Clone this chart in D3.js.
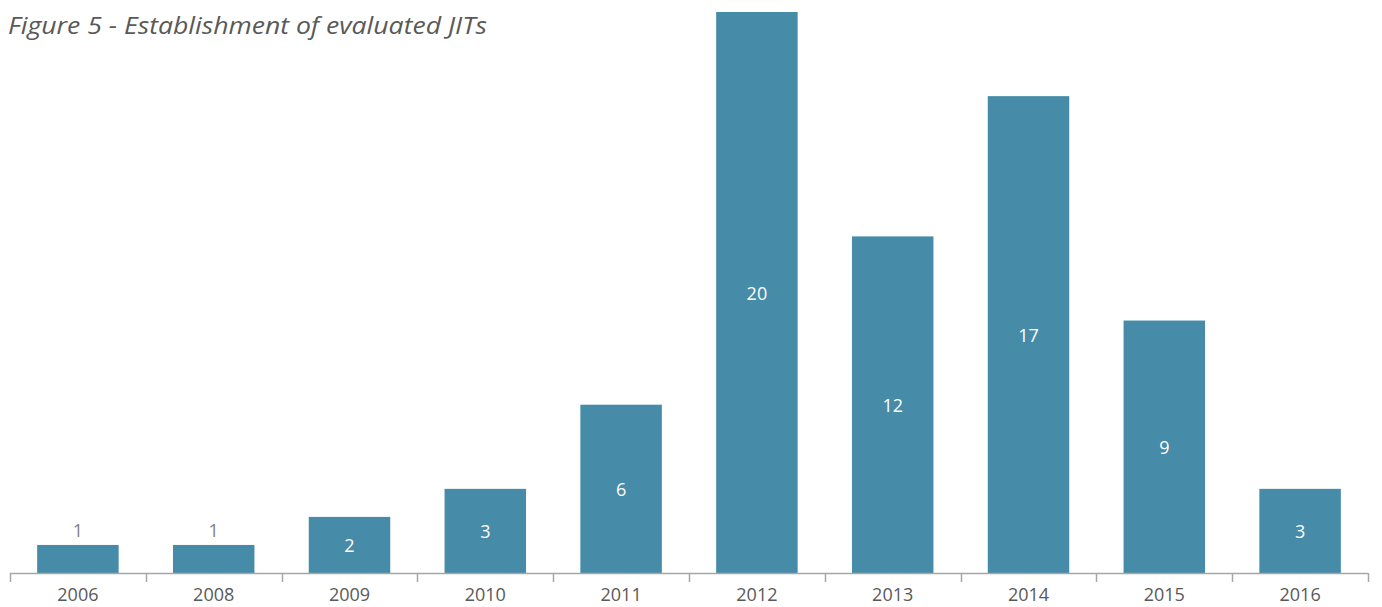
<!DOCTYPE html>
<html>
<head>
<meta charset="utf-8">
<script src="https://cdn.jsdelivr.net/npm/d3@7"></script>
<style>
  body { margin: 0; background: #fff; }
  svg text { font-family: "Open Sans", "Noto Sans", sans-serif; }
</style>
</head>
<body>
<div id="chart"></div>
<script>
var years = ["2006", "2008", "2009", "2010", "2011", "2012", "2013", "2014", "2015", "2016"];
var counts = [1, 1, 2, 3, 6, 20, 12, 17, 9, 3];
var title = "Figure 5 - Establishment of evaluated JITs";

function init() {
    var w = 1382, h = 607;
    var margin = { top: 12, right: 14, bottom: 34, left: 10 };

    var svg = d3.select("#chart")
        .append("svg")
        .attr("width", w)
        .attr("height", h);

    var x = d3.scaleBand()
        .domain(years)
        .range([margin.left, w - margin.right])
        .paddingInner(0.4)
        .paddingOuter(0.2);

    var y = d3.scaleLinear()
        .domain([0, 20])
        .range([h - margin.bottom, margin.top]);

    var data = years.map(function (d, i) { return { year: d, value: counts[i] }; });

    svg.selectAll("rect.bar")
        .data(data)
        .join("rect")
        .attr("class", "bar")
        .attr("x", d => x(d.year))
        .attr("y", d => y(d.value))
        .attr("width", x.bandwidth())
        .attr("height", d => y(0) - y(d.value))
        .attr("fill", "#468ba7");

    // value labels: inside the bar unless the bar is too short
    svg.selectAll("text.val")
        .data(data)
        .join("text")
        .attr("class", "val")
        .attr("x", d => x(d.year) + x.bandwidth() / 2)
        .attr("y", function (d) {
            var hgt = y(0) - y(d.value);
            return hgt < 40 ? y(d.value) - 14 : (y(d.value) + y(0)) / 2 + 1;
        })
        .attr("dy", "0.35em")
        .attr("text-anchor", "middle")
        .style("font-size", "18px")
        .style("fill", d => (y(0) - y(d.value)) < 40 ? "#7f7f7f" : "#ffffff")
        .text(d => d.value);

    // category axis with ticks between the bands
    var axisY = y(0);
    var bounds = d3.range(years.length + 1).map(i => margin.left + i * (w - margin.left - margin.right) / years.length);

    svg.append("line")
        .attr("x1", bounds[0]).attr("x2", bounds[bounds.length - 1])
        .attr("y1", axisY + 0.5).attr("y2", axisY + 0.5)
        .attr("stroke", "#a6a6a6").attr("stroke-width", 1.5);

    svg.selectAll("line.tick")
        .data(bounds)
        .join("line")
        .attr("class", "tick")
        .attr("x1", d => Math.round(d) + 0.5).attr("x2", d => Math.round(d) + 0.5)
        .attr("y1", axisY).attr("y2", axisY + 9)
        .attr("stroke", "#a6a6a6").attr("stroke-width", 1.5);

    svg.selectAll("text.cat")
        .data(years)
        .join("text")
        .attr("class", "cat")
        .attr("x", d => x(d) + x.bandwidth() / 2)
        .attr("y", axisY + 28)
        .attr("text-anchor", "middle")
        .style("font-size", "18px")
        .style("fill", "#595959")
        .text(d => d);

    svg.append("text")
        .attr("x", 8)
        .attr("y", 34)
        .style("font-size", "23px")
        .style("font-style", "italic")
        .style("fill", "#595959")
        .attr("textLength", 479)
        .attr("lengthAdjust", "spacingAndGlyphs")
        .text(title);
}

window.onload = init;
</script>
</body>
</html>
